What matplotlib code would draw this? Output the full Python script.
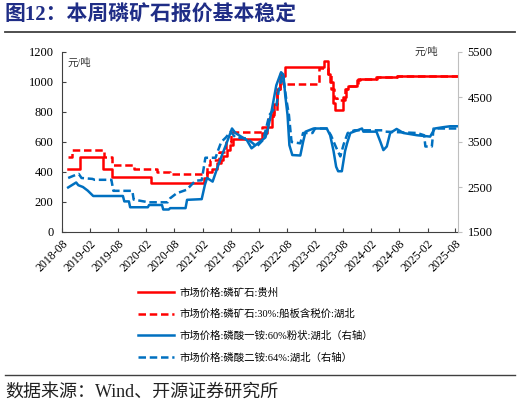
import matplotlib
matplotlib.use("Agg")
import matplotlib.pyplot as plt
import pandas as pd

plt.rcParams['font.family'] = ['Liberation Serif', 'Noto Sans CJK SC']
plt.rcParams['axes.unicode_minus'] = False

# 市场价格:磷矿石:贵州 (左轴, 元/吨)
gz_dates = ["2018-09-12", "2018-11-27", "2019-04-22", "2019-06-20", "2020-03-01",
            "2021-02-10", "2021-03-01", "2021-04-01", "2021-05-04", "2021-06-01",
            "2021-06-15", "2021-07-06", "2021-07-28", "2021-08-18", "2022-02-21",
            "2022-03-25", "2022-04-25", "2022-05-10", "2022-05-28", "2022-06-18",
            "2022-07-22", "2023-03-28", "2023-04-28", "2023-05-12", "2023-05-28",
            "2023-06-12", "2023-08-03", "2023-08-18", "2023-09-01", "2023-11-01",
            "2023-11-22", "2024-03-10", "2024-07-15", "2025-08-15"]
gz_price = [420, 500, 420, 370, 330,
            360, 400, 420, 460, 480,
            510, 550, 580, 620, 660,
            700, 780, 850, 950, 1040,
            1100, 1140, 1050, 1000, 860,
            810, 900, 950, 970, 1010,
            1020, 1030, 1040, 1040]

# 市场价格:磷矿石:30%:船板含税价:湖北 (左轴)
hb_dates = ["2018-09-10", "2018-10-04", "2019-04-28", "2019-06-20", "2019-11-10",
            "2020-04-10", "2020-07-04", "2021-03-01", "2021-03-22", "2021-05-15",
            "2021-07-01", "2021-08-01", "2022-02-21", "2022-04-01", "2022-05-01",
            "2022-05-28", "2022-06-18", "2022-07-10", "2023-03-01", "2023-04-28",
            "2023-05-15", "2023-06-06", "2023-06-25", "2023-08-12", "2023-09-01",
            "2023-11-10", "2024-03-01", "2024-07-15", "2025-08-15"]
hb_price = [500, 550, 500, 450, 420,
            400, 390, 450, 480, 535,
            600, 670, 700, 750, 800,
            950, 1050, 985, 1090, 1050,
            950, 890, 880, 950, 970,
            1020, 1030, 1040, 1040]

# 市场价格:磷酸一铵:60%粉状:湖北 (右轴)
map_dates = ["2018-09-10", "2018-11-01", "2018-11-15", "2018-12-15", "2019-01-15",
             "2019-02-20", "2019-09-01", "2019-09-10", "2019-10-10", "2019-10-18",
             "2020-02-10", "2020-02-18", "2020-05-12", "2020-05-20", "2020-06-25",
             "2020-07-04", "2020-10-12", "2020-10-22", "2021-01-25", "2021-02-15",
             "2021-03-01", "2021-04-06", "2021-05-06", "2021-06-06", "2021-07-01",
             "2021-08-10", "2021-09-01", "2021-11-15", "2021-12-15", "2022-01-10",
             "2022-03-15", "2022-04-01", "2022-04-25", "2022-05-25", "2022-06-25",
             "2022-07-10", "2022-07-22", "2022-08-06", "2022-08-18", "2022-09-06",
             "2022-10-28", "2022-11-15", "2022-12-01", "2023-01-22", "2023-04-18",
             "2023-05-10", "2023-06-01", "2023-06-18", "2023-07-01", "2023-07-25",
             "2023-08-15", "2023-08-28", "2023-09-18", "2023-12-03", "2023-12-12",
             "2024-03-06", "2024-04-01", "2024-04-20", "2024-05-12", "2024-06-03",
             "2024-07-15", "2024-08-28", "2024-11-25", "2025-02-18", "2025-03-20",
             "2025-05-15", "2025-06-28", "2025-08-15"]
map_price = [2490, 2600, 2540, 2500, 2420,
             2300, 2300, 2180, 2180, 2050,
             2050, 2100, 2100, 2000, 2000,
             2030, 2030, 2215, 2230, 2550,
             2700, 2620, 2920, 3210, 3430,
             3800, 3700, 3540, 3360, 3430,
             3600, 3800, 4200, 4760, 5050,
             5000, 4540, 4100, 3430, 3210,
             3200, 3500, 3730, 3800, 3800,
             3650, 3300, 2950, 2850, 2850,
             3300, 3470, 3700, 3800, 3730,
             3730, 3500, 3320, 3400, 3700,
             3790, 3700, 3650, 3620, 3800,
             3830, 3850, 3850]

# 市场价格:磷酸二铵:64%:湖北 (右轴)
dap_dates = ["2018-09-10", "2018-10-15", "2018-11-18", "2018-12-06", "2019-02-15",
             "2019-03-01", "2019-06-18", "2019-07-01", "2019-11-01", "2019-11-10",
             "2020-02-15", "2020-06-18", "2020-07-04", "2020-08-15", "2020-10-20",
             "2020-12-15", "2021-01-25", "2021-02-18", "2021-04-25", "2021-05-10",
             "2021-06-01", "2021-07-01", "2021-08-01", "2021-09-01", "2021-11-15",
             "2022-01-18", "2022-03-01", "2022-04-10", "2022-05-25", "2022-06-10",
             "2022-07-01", "2022-07-15", "2022-07-28", "2022-08-15", "2022-09-01",
             "2022-10-28", "2022-11-15", "2023-01-15", "2023-02-01", "2023-04-18",
             "2023-05-15", "2023-06-15", "2023-07-15", "2023-08-06", "2023-09-01",
             "2023-10-15", "2024-04-15", "2024-05-01", "2024-11-25", "2025-01-10",
             "2025-01-18", "2025-03-01", "2025-03-12", "2025-08-15"]
dap_price = [2700, 2750, 2790, 2700, 2680,
             2660, 2660, 2415, 2415, 2220,
             2160, 2160, 2250, 2360, 2440,
             2640, 2650, 3150, 3150, 3300,
             3500, 3600, 3730, 3600, 3580,
             3400, 3550, 4100, 4300, 4650,
             4950, 4800, 4470, 4100, 3500,
             3470, 3700, 3700, 3800, 3800,
             3650, 3400, 3180, 3450, 3700,
             3760, 3760, 3730, 3700, 3650,
             3400, 3400, 3800, 3800]

labels = ["市场价格:磷矿石:贵州",
          "市场价格:磷矿石:30%:船板含税价:湖北",
          "市场价格:磷酸一铵:60%粉状:湖北（右轴）",
          "市场价格:磷酸二铵:64%:湖北（右轴）"]

red = "#ff0000"
blue = "#0070c0"

fig = plt.figure(figsize=(5.21, 4.05), dpi=100)
ax = fig.add_axes([62 / 521, 1 - 232 / 405, (458 - 62) / 521, 180 / 405])
ax2 = ax.twinx()

l1, = ax.plot(pd.to_datetime(gz_dates), gz_price, color=red, lw=1.8,
              drawstyle="steps-post", label=labels[0])
l2, = ax.plot(pd.to_datetime(hb_dates), hb_price, color=red, lw=1.8,
              ls=(0, (3, 1.5)), drawstyle="steps-post", label=labels[1])
l3, = ax2.plot(pd.to_datetime(map_dates), map_price, color=blue, lw=1.8,
               label=labels[2])
l4, = ax2.plot(pd.to_datetime(dap_dates), dap_price, color=blue, lw=1.8,
               ls=(0, (3, 1.5)), label=labels[3])

ax.set_ylim(0, 1200)
ax.set_yticks(range(0, 1201, 200))
ax2.set_ylim(1500, 5500)
ax2.set_yticks(range(1500, 5501, 1000))
ax.set_xlim(pd.Timestamp("2018-08-01"), pd.Timestamp("2025-08-18"))

ticks = pd.date_range("2018-08-01", "2025-08-01", freq="6MS")
ax.set_xticks(ticks)
ax.set_xticklabels([t.strftime("%Y-%m") for t in ticks], rotation=45,
                   ha="right", rotation_mode="anchor", fontsize=8.5)

for a in (ax, ax2):
    a.spines["top"].set_visible(False)
ax.spines["right"].set_visible(False)
ax.spines["left"].set_color("#404040")
ax.spines["bottom"].set_color("#404040")
ax2.spines["left"].set_visible(False)
ax2.spines["bottom"].set_visible(False)
ax2.spines["right"].set_color("#bfbfbf")

ax.tick_params(axis="y", direction="in", length=3, labelsize=9, color="#404040", pad=6)
ax.tick_params(axis="x", direction="in", length=3, color="#404040", pad=4)
ax2.tick_params(axis="y", direction="out", length=3, labelsize=9, color="#bfbfbf", pad=4)

ax.text(0.015, 0.97, "元/吨", transform=ax.transAxes, fontsize=7.5,
        va="top", ha="left", color="#333333")
ax2.text(0.95, 1.03, "元/吨", transform=ax2.transAxes, fontsize=7.5,
         va="top", ha="right", color="#333333")

fig.legend(handles=[l1, l2, l3, l4], loc="upper left",
           bbox_to_anchor=(129 / 521, 1 - 278 / 405), frameon=False,
           fontsize=7.5, handlelength=3.4, labelspacing=1.12, handletextpad=0.5)

# title and source
fig.text(5 / 521, 1 - 16 / 405, "图12：本周磷矿石报价基本稳定", fontsize=15,
         fontweight="bold", color="#1f2d86", va="center", ha="left")
fig.add_artist(plt.Line2D([5 / 521, 515 / 521], [1 - 32 / 405, 1 - 32 / 405],
                          color="#404040", lw=1.3))
fig.add_artist(plt.Line2D([5 / 521, 515 / 521], [1 - 375 / 405, 1 - 375 / 405],
                          color="#404040", lw=1.0))
fig.text(5 / 521, 1 - 392 / 405, "数据来源：Wind、开源证券研究所", fontsize=13,
         color="#222222", va="center", ha="left")

fig.savefig("out.png", dpi=100)
